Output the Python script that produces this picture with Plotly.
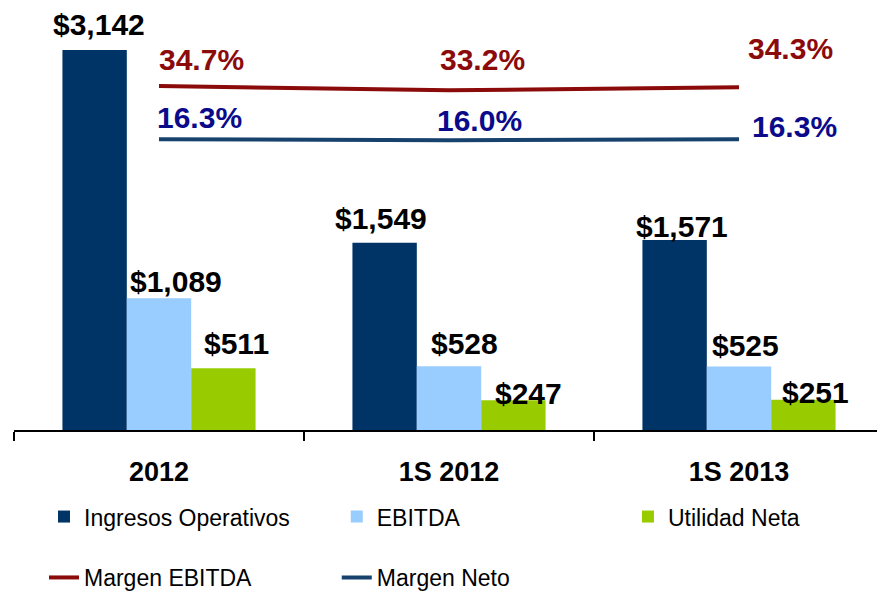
import plotly.graph_objects as go

categories = ["2012", "1S 2012", "1S 2013"]
ingresos = [3142, 1549, 1571]
ebitda = [1089, 528, 525]
utilidad = [511, 247, 251]
margen_ebitda = [34.7, 33.2, 34.3]
margen_neto = [16.3, 16.0, 16.3]

series_names = ["Ingresos Operativos", "EBITDA", "Utilidad Neta"]
series_vals = [ingresos, ebitda, utilidad]
bar_colors = ["#003366", "#99CCFF", "#99CC00"]
bar_legends = ["legend", "legend2", "legend3"]

FONT = "Liberation Sans Narrow, Arial Narrow, Liberation Sans, Arial, sans-serif"
RED = "#8B0A0A"
NAVY_LINE = "#17426E"
NAVY_TEXT = "#0A0A8A"

fig = go.Figure()
for name, vals, col, lg in zip(series_names, series_vals, bar_colors, bar_legends):
    fig.add_trace(go.Bar(x=categories, y=vals, name=name, marker_color=col,
                         marker_line_width=0, legend=lg, legendgroup="bars"))

fig.add_trace(go.Scatter(x=categories, y=margen_ebitda, name="Margen EBITDA", mode="lines",
                         line=dict(color=RED, width=4), yaxis="y2",
                         legend="legend", legendgroup="lines"))
fig.add_trace(go.Scatter(x=categories, y=margen_neto, name="Margen Neto", mode="lines",
                         line=dict(color=NAVY_LINE, width=4), yaxis="y2",
                         legend="legend2", legendgroup="lines"))

# bar value labels (style offsets in px)
bar_px = 290 * (1 - 0.334) / 3
lab_dx = [[4, 17, 13], [-4, 15, 15], [7, 6, 12]]
lab_dy = [[7, -2, 6], [6, 4, -12], [-5, 3, -11]]
annotations = []
for gi, cat in enumerate(categories):
    for si, vals in enumerate(series_vals):
        annotations.append(dict(
            x=gi, y=vals[gi], xref="x", yref="y", text=f"${vals[gi]:,}",
            showarrow=False, xanchor="center", yanchor="bottom",
            xshift=(si - 1) * bar_px + lab_dx[gi][si], yshift=lab_dy[gi][si],
            font=dict(family=FONT, size=30, color="#000000", weight="bold")))

# margin labels (style offsets in px)
red_dx = [-2, -11, 7]
red_dy = [26.5, 31, 39]
blue_dx = [-4, -14, 11]
blue_dy = [22, 19.5, 13]
for vals, col, dxs, dys in [(margen_ebitda, RED, red_dx, red_dy),
                            (margen_neto, NAVY_TEXT, blue_dx, blue_dy)]:
    for i, cat in enumerate(categories):
        annotations.append(dict(
            x=i, y=vals[i], xref="x", yref="y2", text=f"{vals[i]:.1f}%",
            showarrow=False, xanchor="left", yanchor="middle",
            xshift=dxs[i], yshift=dys[i],
            font=dict(family=FONT, size=30, color=col, weight="bold")))

legend_style = dict(orientation="v", yanchor="top", xanchor="left",
                    font=dict(family=FONT, size=23, color="#000000"),
                    bgcolor="rgba(0,0,0,0)", traceorder="grouped", tracegroupgap=28)

fig.update_layout(
    width=877, height=586,
    margin=dict(l=6, r=1, t=2, b=164, autoexpand=False),
    paper_bgcolor="white", plot_bgcolor="white",
    barmode="group", bargap=0.334, bargroupgap=0,
    font=dict(family=FONT, size=23, color="#000000"),
    xaxis=dict(type="category", categoryarray=categories, range=[-0.5, 2.5],
               showline=True, linecolor="#000000", linewidth=2,
               ticks="outside", ticklen=9, tickwidth=2, tickcolor="#000000",
               tickson="boundaries", showgrid=False, zeroline=False,
               tickfont=dict(family=FONT, size=27, color="#000000", weight="bold"),
               ticklabelstandoff=17),
    xaxis2=dict(overlaying="x", range=[-0.5, 2.5], tickvals=[-0.5, 0.5, 1.5, 2.5],
                ticks="inside", ticklen=7, tickwidth=2, tickcolor="#000000",
                showticklabels=False, showgrid=False, zeroline=False, showline=False,
                anchor="y"),
    yaxis=dict(range=[0, 3473], visible=False, showgrid=False, zeroline=False),
    yaxis2=dict(range=[-84.05, 60.93], overlaying="y", visible=False,
                showgrid=False, zeroline=False),
    legend=dict(x=0.0345, y=-0.155, **legend_style),
    legend2=dict(x=0.371, y=-0.155, **legend_style),
    legend3=dict(x=0.7057, y=-0.155, **legend_style),
    annotations=annotations,
    showlegend=True,
)

fig.write_html("out.html")
